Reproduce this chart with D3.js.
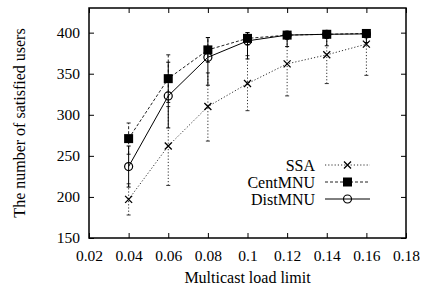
<!DOCTYPE html>
<html><head><meta charset="utf-8">
<script src="https://cdn.jsdelivr.net/npm/d3@7"></script>
<style>body{margin:0;background:#fff}svg{display:block}
svg text{font-family:'Liberation Serif','Times New Roman',Tinos,'Nimbus Roman','DejaVu Serif','Noto Serif',serif !important;}</style>
</head><body><svg id="c" width="427" height="290"></svg>
<script>
const xs = [0.04, 0.06, 0.08, 0.10, 0.12, 0.14, 0.16];
const ssa = [197, 262, 310, 338, 362, 373, 386];
const ssaLow = [178, 214, 268, 305, 323, 338, 348];
const ssaHigh = [216, 310, 351, 372, 398, 400, 400];
const cent = [271, 344, 379, 393, 397, 398, 399];
const centLow = [252, 315, 364, 385, 392, 393, 395];
const centHigh = [290, 373, 394, 400, 400, 400, 400];
const dist = [237, 323, 370, 390, 397, 398, 398.5];
const distLow = [212, 284, 336, 368, 383, 384, 388];
const distHigh = [262, 364, 394, 400, 400, 400, 400];
const xTicks = [0.02, 0.04, 0.06, 0.08, 0.1, 0.12, 0.14, 0.16, 0.18];
const yTicks = [150, 200, 250, 300, 350, 400];
const names = ["SSA", "CentMNU", "DistMNU"];

const svg = d3.select("#c");
const L = 89, R = 406, T = 8, B = 238;
const x = d3.scaleLinear().domain([0.02, 0.18]).range([L, R]);
const y = d3.scaleLinear().domain([150, 430]).range([B, T]);

const series = [
  {name: names[0], v: ssa, lo: ssaLow, hi: ssaHigh, dash: "1.2,2", color: "#333", w: 1},
  {name: names[1], v: cent, lo: centLow, hi: centHigh, dash: "3,2", color: "#222", w: 1},
  {name: names[2], v: dist, lo: distLow, hi: distHigh, dash: null, color: "#000", w: 1}
];

const tk = 5;
svg.append("g").attr("transform", `translate(0,${B})`)
  .call(d3.axisBottom(x).tickValues(xTicks).tickSizeInner(-tk).tickSizeOuter(0).tickPadding(12).tickFormat(d => String(+d.toFixed(2))))
  .call(g => g.select(".domain").remove());
svg.append("g").attr("transform", `translate(0,${T})`)
  .call(d3.axisTop(x).tickValues(xTicks).tickSizeInner(-tk).tickSizeOuter(0).tickFormat(""))
  .call(g => g.select(".domain").remove());
svg.append("g").attr("transform", `translate(${L},0)`)
  .call(d3.axisLeft(y).tickValues(yTicks).tickSizeInner(-tk).tickSizeOuter(0).tickPadding(9))
  .call(g => g.select(".domain").remove());
svg.append("g").attr("transform", `translate(${R},0)`)
  .call(d3.axisRight(y).tickValues(yTicks).tickSizeInner(-tk).tickSizeOuter(0).tickFormat(""))
  .call(g => g.select(".domain").remove());
svg.selectAll("g").attr("font-family", null);
svg.selectAll(".tick line").attr("stroke", "#000").attr("stroke-width", 1);
svg.selectAll(".tick text").attr("font-size", 15.5).attr("fill", "#000");

svg.append("rect").attr("x", L).attr("y", T).attr("width", R - L).attr("height", B - T)
  .attr("fill", "none").attr("stroke", "#000").attr("stroke-width", 1.5);

function marker(g, name, cx, cy) {
  if (name === "SSA") {
    const s = 3.5;
    g.append("path").attr("d", `M${cx-s},${cy-s}L${cx+s},${cy+s}M${cx-s},${cy+s}L${cx+s},${cy-s}`)
      .attr("stroke", "#000").attr("stroke-width", 1.3);
  } else if (name === "CentMNU") {
    const s = 4.5;
    g.append("rect").attr("x", cx - s).attr("y", cy - s).attr("width", 2*s).attr("height", 2*s).attr("fill", "#000");
  } else {
    g.append("circle").attr("cx", cx).attr("cy", cy).attr("r", 4).attr("fill", "none").attr("stroke", "#000").attr("stroke-width", 1.2);
  }
}

const line = d3.line().x((d, i) => x(xs[i])).y(d => y(d));
series.forEach(s => {
  const g = svg.append("g");
  s.v.forEach((v, i) => {
    const cx = x(xs[i]);
    g.append("line").attr("x1", cx).attr("x2", cx).attr("y1", y(s.lo[i])).attr("y2", y(s.hi[i]))
      .attr("stroke", s.color).attr("stroke-width", s.w).attr("stroke-dasharray", s.dash);
    [s.lo[i], s.hi[i]].forEach(ev => {
      g.append("line").attr("x1", cx - 2).attr("x2", cx + 2).attr("y1", y(ev)).attr("y2", y(ev))
        .attr("stroke", s.color).attr("stroke-width", 1);
    });
  });
  g.append("path").attr("d", line(s.v)).attr("fill", "none").attr("stroke", s.color)
    .attr("stroke-width", s.w).attr("stroke-dasharray", s.dash);
  s.v.forEach((v, i) => marker(g, s.name, x(xs[i]), y(v)));
});

const ly = [165, 182, 199];
series.forEach((s, i) => {
  svg.append("text").attr("x", 315).attr("y", ly[i]).attr("dy", "0.35em").attr("text-anchor", "end")
    .attr("font-size", 16).text(s.name);
  svg.append("line").attr("x1", 325).attr("x2", 370).attr("y1", ly[i]).attr("y2", ly[i])
    .attr("stroke", s.color).attr("stroke-width", s.w).attr("stroke-dasharray", s.dash);
  marker(svg, s.name, 347.5, ly[i]);
});

svg.append("text").attr("x", (L + R) / 2).attr("y", 283).attr("text-anchor", "middle")
  .attr("font-size", 16).text("Multicast load limit");
svg.append("text").attr("transform", `translate(25,${(T + B) / 2}) rotate(-90)`).attr("text-anchor", "middle")
  .attr("font-size", 16).text("The number of satisfied users");
</script></body></html>
